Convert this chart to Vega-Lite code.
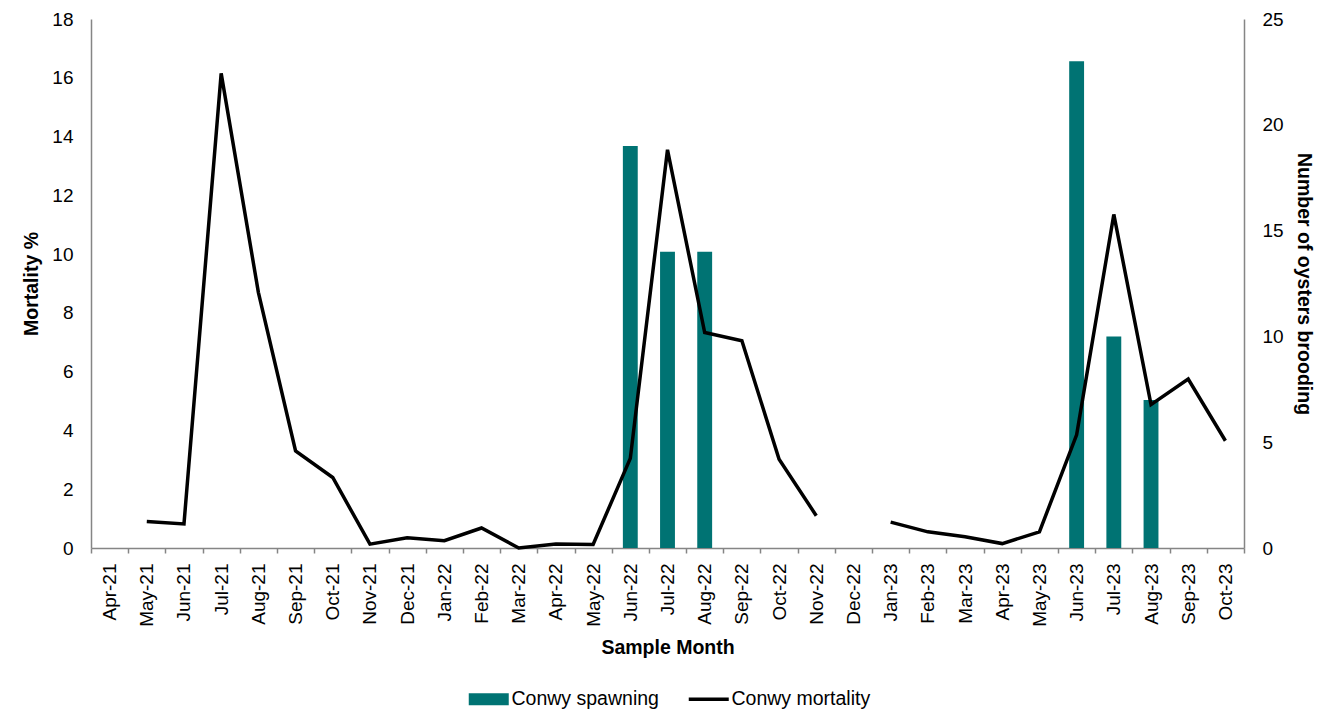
{
  "$schema": "https://vega.github.io/schema/vega-lite/v6.json",
  "width": 1153,
  "height": 529,
  "autosize": "none",
  "padding": {"left": 91, "top": 19, "right": 74, "bottom": 162},
  "background": "white",
  "config": {
    "font": "Liberation Sans",
    "view": {"stroke": null},
    "axis": {"grid": false, "domainColor": "#858585", "domainWidth": 1.5, "labelColor": "#000000", "titleColor": "#000000", "labelFont": "Liberation Sans", "titleFont": "Liberation Sans"}
  },
  "data": {
    "values": [
      {"month": "Apr-21", "mortality": null, "brooding": null},
      {"month": "May-21", "mortality": 0.9, "brooding": null},
      {"month": "Jun-21", "mortality": 0.82, "brooding": null},
      {"month": "Jul-21", "mortality": 16.15, "brooding": null},
      {"month": "Aug-21", "mortality": 8.7, "brooding": null},
      {"month": "Sep-21", "mortality": 3.3, "brooding": null},
      {"month": "Oct-21", "mortality": 2.4, "brooding": null},
      {"month": "Nov-21", "mortality": 0.13, "brooding": null},
      {"month": "Dec-21", "mortality": 0.35, "brooding": null},
      {"month": "Jan-22", "mortality": 0.25, "brooding": null},
      {"month": "Feb-22", "mortality": 0.68, "brooding": null},
      {"month": "Mar-22", "mortality": 0.0, "brooding": null},
      {"month": "Apr-22", "mortality": 0.14, "brooding": null},
      {"month": "May-22", "mortality": 0.12, "brooding": null},
      {"month": "Jun-22", "mortality": 3.05, "brooding": 19},
      {"month": "Jul-22", "mortality": 13.55, "brooding": 14},
      {"month": "Aug-22", "mortality": 7.33, "brooding": 14},
      {"month": "Sep-22", "mortality": 7.05, "brooding": null},
      {"month": "Oct-22", "mortality": 3.02, "brooding": null},
      {"month": "Nov-22", "mortality": 1.1, "brooding": null},
      {"month": "Dec-22", "mortality": null, "brooding": null},
      {"month": "Jan-23", "mortality": 0.88, "brooding": null},
      {"month": "Feb-23", "mortality": 0.55, "brooding": null},
      {"month": "Mar-23", "mortality": 0.38, "brooding": null},
      {"month": "Apr-23", "mortality": 0.15, "brooding": null},
      {"month": "May-23", "mortality": 0.55, "brooding": null},
      {"month": "Jun-23", "mortality": 3.85, "brooding": 23},
      {"month": "Jul-23", "mortality": 11.35, "brooding": 10},
      {"month": "Aug-23", "mortality": 4.88, "brooding": 7},
      {"month": "Sep-23", "mortality": 5.75, "brooding": null},
      {"month": "Oct-23", "mortality": 3.65, "brooding": null}
    ]
  },
  "encoding": {
    "x": {
      "field": "month",
      "type": "nominal",
      "sort": null,
      "scale": {
        "domain": ["Apr-21","May-21","Jun-21","Jul-21","Aug-21","Sep-21","Oct-21","Nov-21","Dec-21","Jan-22","Feb-22","Mar-22","Apr-22","May-22","Jun-22","Jul-22","Aug-22","Sep-22","Oct-22","Nov-22","Dec-22","Jan-23","Feb-23","Mar-23","Apr-23","May-23","Jun-23","Jul-23","Aug-23","Sep-23","Oct-23"],
        "paddingInner": 0,
        "paddingOuter": 0
      },
      "axis": {
        "title": "Sample Month",
        "labelAngle": -90,
        "tickBand": "extent",
        "tickSize": 5,
        "tickColor": "#858585",
        "tickWidth": 1.5,
        "labelPadding": 10,
        "labelFontSize": 19,
        "titleFontSize": 19.5,
        "titleFontWeight": "bold",
        "titlePadding": 12
      }
    }
  },
  "layer": [
    {
      "mark": {"type": "bar", "width": {"band": 0.4}},
      "encoding": {
        "y": {
          "field": "brooding",
          "type": "quantitative",
          "scale": {"domain": [0, 25], "nice": false},
          "axis": {
            "orient": "right",
            "title": "Number of oysters brooding",
            "values": [0, 5, 10, 15, 20, 25],
            "ticks": false,
            "tickSize": 0,
            "labelPadding": 18,
            "labelFontSize": 19,
            "titleFontSize": 19.5,
            "titleFontWeight": "bold",
            "titlePadding": 10
          }
        },
        "color": {
          "datum": "Conwy spawning",
          "scale": {"domain": ["Conwy spawning", "Conwy mortality"], "range": ["#007373", "#000000"]},
          "legend": {
            "title": null,
            "orient": "none",
            "legendX": 388,
            "legendY": 670,
            "direction": "horizontal",
            "labelFontSize": 19.5,
            "labelColor": "#000000",
            "symbolSize": 1600,
            "labelOffset": 13,
            "columnPadding": 22,
            "symbolType": "M-1,-0.3L1,-0.3L1,0.3L-1,0.3Z",
            "encode": {
              "symbols": {
                "update": {
                  "shape": {"signal": "datum.value === 'Conwy mortality' ? 'stroke' : 'M-1,-0.3L1,-0.3L1,0.3L-1,0.3Z'"},
                  "fill": {"signal": "datum.value === 'Conwy mortality' ? 'transparent' : '#007373'"},
                  "stroke": {"signal": "datum.value === 'Conwy mortality' ? '#000000' : 'transparent'"},
                  "strokeWidth": {"signal": "datum.value === 'Conwy mortality' ? 3.5 : 0"},
                  "opacity": {"value": 1}
                }
              }
            }
          }
        }
      }
    },
    {
      "mark": {"type": "line", "strokeWidth": 3.5, "invalid": "break-paths-show-domains"},
      "encoding": {
        "y": {
          "field": "mortality",
          "type": "quantitative",
          "scale": {"domain": [0, 18], "nice": false},
          "axis": {
            "orient": "left",
            "title": "Mortality %",
            "values": [0, 2, 4, 6, 8, 10, 12, 14, 16, 18],
            "ticks": false,
            "tickSize": 0,
            "labelPadding": 18,
            "labelFontSize": 19,
            "titleFontSize": 19.5,
            "titleFontWeight": "bold",
            "titlePadding": 10
          }
        },
        "color": {"datum": "Conwy mortality"}
      }
    }
  ],
  "resolve": {"scale": {"y": "independent"}}
}
